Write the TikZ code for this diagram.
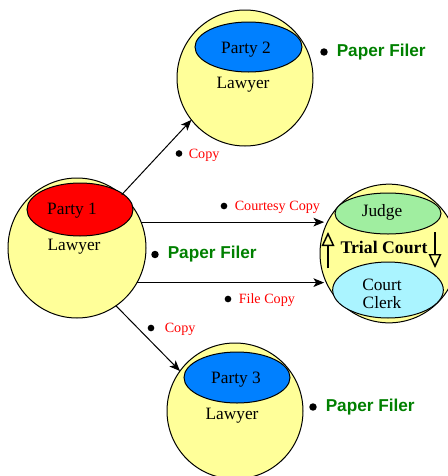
\documentclass[tikz,border=0pt]{standalone}
\usepackage{fontspec}
\setmainfont{Liberation Serif}
\newfontfamily\filerfont{Liberation Sans}
\usetikzlibrary{arrows.meta,shapes.geometric}
\definecolor{lawyeryellow}{RGB}{255,255,153}
\definecolor{partyblue}{RGB}{0,128,255}
\definecolor{partyred}{RGB}{255,0,0}
\definecolor{judgegreen}{RGB}{160,238,160}
\definecolor{clerkcyan}{RGB}{170,244,255}
\definecolor{filergreen}{RGB}{0,128,0}
\tikzset{
  outer/.style={ellipse,draw=black,line width=0.75pt,fill=lawyeryellow,inner sep=0pt,outer sep=0pt},
  inner/.style={ellipse,draw=black,line width=0.75pt,inner sep=0pt,outer sep=0pt},
  txt/.style={inner sep=0pt,font=\fontsize{13}{14}\selectfont},
  filer/.style={inner sep=0pt,anchor=west,text=filergreen,font=\filerfont\bfseries\fontsize{12.9}{14}\selectfont},
  redlbl/.style={inner sep=0pt,anchor=west,text=red,font=\fontsize{10.6}{12}\selectfont},
  bigdot/.style={circle,fill=black,inner sep=0pt,minimum size=5.6pt},
  smalldot/.style={circle,fill=black,inner sep=0pt,minimum size=5pt},
  conn/.style={line width=0.75pt,-{Stealth[length=8pt,width=6.5pt,inset=2pt]}},
  flow/.style={line width=0.9pt,-{Triangle[open,length=10.5pt,width=9.5pt,line width=1.1pt]}}
}
\begin{document}
\begin{tikzpicture}[x=0.75pt,y=-0.75pt]
\useasboundingbox (0,0) rectangle (448,476);
% Party 1
\node[outer,minimum width=103.5pt,minimum height=105pt] (p1) at (77,248) {};
\node[inner,fill=partyred,minimum width=79.5pt,minimum height=39.75pt] (e1) at (80,209.5) {};
\node[txt] (t1) at (72,211) {Party 1};
\node[txt] (l1) at (74,247) {Lawyer};
% Party 2
\node[outer,minimum width=102pt,minimum height=102pt] (p2) at (245,78) {};
\node[inner,fill=partyblue,minimum width=80.25pt,minimum height=37.5pt] (e2) at (248.5,47) {};
\node[txt] (t2) at (246,50) {Party 2};
\node[txt] (l2) at (243,85) {Lawyer};
% Party 3
\node[outer,minimum width=102pt,minimum height=102pt] (p3) at (235,411) {};
\node[inner,fill=partyblue,minimum width=79.5pt,minimum height=38.25pt] (e3) at (237,377.5) {};
\node[txt] (t3) at (236,380) {Party 3};
\node[txt] (l3) at (232,416) {Lawyer};
% Trial court
\node[outer,minimum width=103.5pt,minimum height=104pt] (tc) at (389,253.5) {};
\node[inner,fill=judgegreen,minimum width=79.5pt,minimum height=30.75pt] (judge) at (388,213.5) {};
\node[inner,fill=clerkcyan,minimum width=83pt,minimum height=42pt] (clerk) at (388,290) {};
\node[txt] (tj) at (382,212) {Judge};
\node[txt,align=center,font=\fontsize{13}{13.5}\selectfont] (tcl) at (382,294) {Court\\Clerk};
\node[inner sep=0pt,font=\bfseries\fontsize{13.3}{15}\selectfont] (ttc) at (384,247) {Trial Court};
\coordinate (upS) at (328,268);
\coordinate (upE) at (328,232);
\coordinate (dnS) at (435,232);
\coordinate (dnE) at (435,268);
\draw[flow] (upS) -- (upE);
\draw[flow] (dnS) -- (dnE);
% Connectors
\draw[conn] (p1.50.7) -- (p2.218.7);
\draw[conn] (p1.22.4) -- (p1.22.4 -| tc.160.5);
\draw[conn] (p1.-30.5) -- (p1.-30.5 -| tc.200.5);
\draw[conn] (p1.304) -- (p3.144.3);
% Labels
\node[smalldot] (d1) at (179,153.5) {};
\node[redlbl] (c1) at (188.5,155) {Copy};
\node[smalldot] (d2) at (224,206) {};
\node[redlbl] (c2) at (234.5,207) {Courtesy Copy};
\node[smalldot] (d3) at (228,299) {};
\node[redlbl] (c3) at (238.5,300) {File Copy};
\node[smalldot] (d4) at (151,328) {};
\node[redlbl] (c4) at (164.5,329.5) {Copy};
% Paper filers
\node[bigdot] (f1d) at (324,52) {};
\node[filer] (f1) at (336.5,52) {Paper Filer};
\node[bigdot] (f2d) at (155,254.5) {};
\node[filer] (f2) at (167.5,254.5) {Paper Filer};
\node[bigdot] (f3d) at (313,407) {};
\node[filer] (f3) at (325.5,407) {Paper Filer};
\end{tikzpicture}
\end{document}
